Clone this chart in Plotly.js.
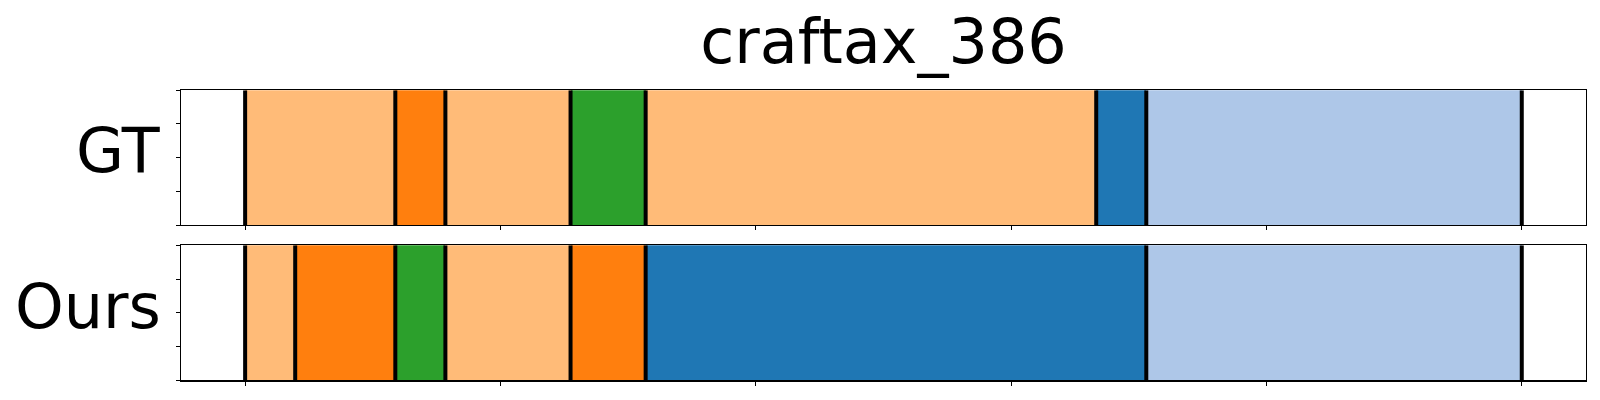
<!DOCTYPE html>
<html>
<head>
<meta charset="utf-8">
<script src="https://cdn.plot.ly/plotly-3.0.1.min.js"></script>
<style>html,body{margin:0;padding:0;background:#fff;}#chart{width:1600px;height:400px;}</style>
</head>
<body>
<div id="chart"></div>
<script>
// Data: segment boundaries (frame indices) and segment colours per row
const totalFrames = 51;
const gtBounds = [0, 6, 8, 13, 16, 34, 36, 51];
const gtColors = ["#ffbb78", "#ff7f0e", "#ffbb78", "#2ca02c", "#ffbb78", "#1f77b4", "#aec7e8"];
const oursBounds = [0, 2, 6, 8, 13, 16, 36, 51];
const oursColors = ["#ffbb78", "#ff7f0e", "#2ca02c", "#ffbb78", "#ff7f0e", "#1f77b4", "#aec7e8"];
const rowLabels = ["GT", "Ours"];
const titleText = "craftax_386";

function segTraces(bounds, colors, xa, ya) {
  const base = [], len = [], ys = [];
  for (let i = 0; i < colors.length; i++) {
    base.push(bounds[i]);
    len.push(bounds[i + 1] - bounds[i]);
    ys.push(0.5);
  }
  const bar = {
    type: "bar", orientation: "h", base: base, x: len, y: ys, width: 1,
    marker: {color: colors, line: {width: 0}},
    xaxis: xa, yaxis: ya, hoverinfo: "skip", showlegend: false
  };
  const lx = [], ly = [];
  bounds.forEach(b => { lx.push(b, b, null); ly.push(0, 1, null); });
  const lines = {
    type: "scatter", mode: "lines", x: lx, y: ly,
    line: {color: "#000", width: 4},
    xaxis: xa, yaxis: ya, hoverinfo: "skip", showlegend: false
  };
  return [bar, lines];
}

const data = [
  ...segTraces(gtBounds, gtColors, "x", "y"),
  ...segTraces(oursBounds, oursColors, "x2", "y2")
];

const pad = totalFrames * 0.05;
const xticks = [0, 1, 2, 3, 4, 5].map(k => k * totalFrames / 5);
function xax(dom) {
  return {
    domain: dom, range: [-pad, totalFrames + pad], showgrid: false, zeroline: false,
    showline: true, mirror: true, linecolor: "#000", linewidth: 1.3,
    ticks: "outside", ticklen: 4, tickwidth: 1, tickcolor: "#000",
    tickvals: xticks, showticklabels: false
  };
}
function yax(dom, anchor) {
  return {
    domain: dom, range: [0, 1], showgrid: false, zeroline: false, anchor: anchor,
    showline: true, mirror: true, linecolor: "#000", linewidth: 1.3,
    ticks: "outside", ticklen: 4, tickwidth: 1, tickcolor: "#000",
    tickvals: [0, 0.25, 0.5, 0.75, 1], showticklabels: false
  };
}
const xdom = [181.3 / 1600, 1585.6 / 1600];
const layout = {
  width: 1600, height: 400,
  margin: {l: 0, r: 0, t: 0, b: 0},
  paper_bgcolor: "#fff", plot_bgcolor: "#fff",
  barmode: "overlay", bargap: 0,
  font: {family: "DejaVu Sans", color: "#000"},
  title: {text: titleText, font: {size: 62, family: "DejaVu Sans", color: "#000"},
          x: 883.5 / 1600, xanchor: "center", xref: "paper", y: 1 - 41.5 / 400, yref: "container", yanchor: "middle"},
  xaxis: Object.assign(xax(xdom), {anchor: "y"}),
  yaxis: yax([1 - 225 / 400, 1 - 90.3 / 400], "x"),
  xaxis2: Object.assign(xax(xdom), {anchor: "y2"}),
  yaxis2: yax([1 - 380.3 / 400, 1 - 245.3 / 400], "x2"),
  annotations: [
    {text: rowLabels[0], xref: "paper", yref: "paper", x: 163 / 1600, y: 1 - 151 / 400,
     xanchor: "right", yanchor: "middle", showarrow: false, font: {size: 62, family: "DejaVu Sans", color: "#000"}},
    {text: rowLabels[1], xref: "paper", yref: "paper", x: 163 / 1600, y: 1 - 306.5 / 400,
     xanchor: "right", yanchor: "middle", showarrow: false, font: {size: 62, family: "DejaVu Sans", color: "#000"}}
  ]
};
Plotly.newPlot("chart", data, layout, {staticPlot: true, displayModeBar: false});
</script>
</body>
</html>
